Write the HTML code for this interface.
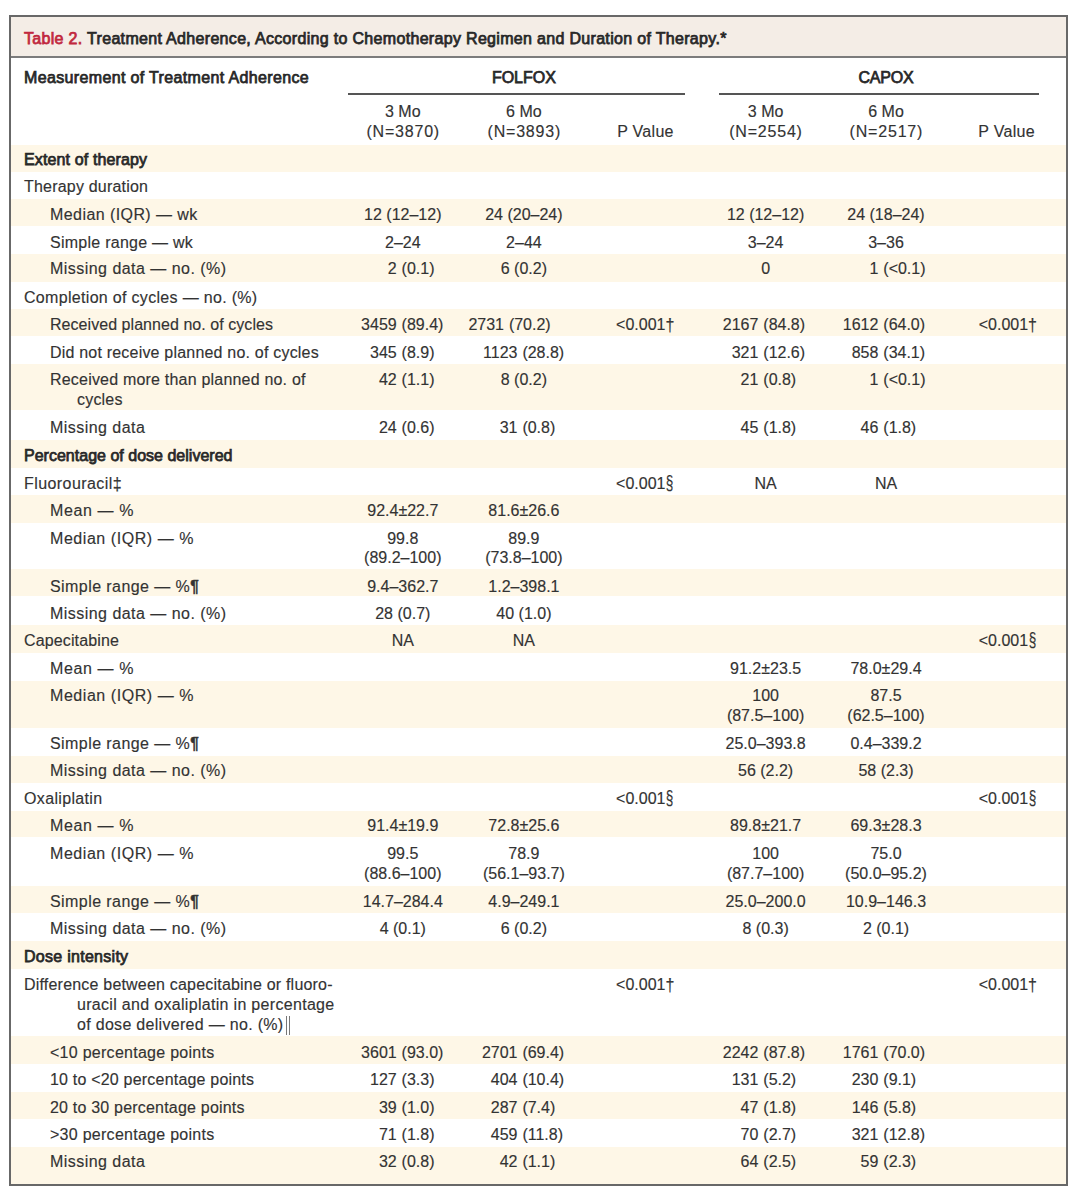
<!DOCTYPE html>
<html><head><meta charset="utf-8">
<style>
html,body{margin:0;padding:0;background:#fff;}
body{width:1080px;height:1195px;position:relative;overflow:hidden;font-family:"Liberation Sans",sans-serif;color:#333;}
.frame{position:absolute;left:9px;top:15px;width:1055px;height:1167px;border:2px solid #686868;}
.title{position:absolute;left:11px;top:17px;width:1055px;height:39px;background:#f4ede6;border-bottom:2px solid #7c7c7c;}
.tt{position:absolute;left:24px;top:29px;font-size:16px;letter-spacing:0.317px;-webkit-text-stroke:0.75px #282828;color:#282828;white-space:nowrap;line-height:19px;}
.tt .red{color:#c1283e;-webkit-text-stroke:0.75px #c1283e;}
.band{position:absolute;left:11px;width:1055px;background:#fef7e7;}
.t{position:absolute;font-size:16px;line-height:19.7px;white-space:nowrap;color:#333;-webkit-text-stroke:0.15px #333;}
.lab{letter-spacing:0.2px;}
.b{-webkit-text-stroke:0.75px #282828;color:#282828;}
.c{text-align:center;width:200px;}
.r{text-align:right;width:200px;}
.hd{position:absolute;font-size:16px;-webkit-text-stroke:0.75px #282828;color:#282828;white-space:nowrap;line-height:19px;}
.rule{position:absolute;height:1.8px;background:#555;}
.n{letter-spacing:0.8px;margin-right:-0.8px}
.pv{letter-spacing:0.3px}
.sect{display:inline-block;transform:scale(0.85,1.22);transform-origin:50% 62%;}
.dag{display:inline-block;transform:scale(1,1.2);transform-origin:50% 40%;}
.pil{-webkit-text-stroke:0.6px #333}
.dbar{display:inline-block;width:1.6px;height:19px;border-left:1.1px solid #777;border-right:1.1px solid #777;vertical-align:-5px;margin-left:2.5px;-webkit-text-stroke:0}
</style></head><body>

<div class="title"></div>
<div class="band" style="top:145.0px;height:26.5px"></div>
<div class="band" style="top:198.9px;height:27.4px"></div>
<div class="band" style="top:253.6px;height:28.3px"></div>
<div class="band" style="top:308.9px;height:27.4px"></div>
<div class="band" style="top:364.4px;height:45.3px"></div>
<div class="band" style="top:439.6px;height:28.2px"></div>
<div class="band" style="top:495.2px;height:27.4px"></div>
<div class="band" style="top:568.5px;height:27.5px"></div>
<div class="band" style="top:625.2px;height:27.4px"></div>
<div class="band" style="top:680.7px;height:47.5px"></div>
<div class="band" style="top:755.9px;height:27.5px"></div>
<div class="band" style="top:810.7px;height:26.7px"></div>
<div class="band" style="top:886.3px;height:26.7px"></div>
<div class="band" style="top:941.1px;height:28.2px"></div>
<div class="band" style="top:1036.3px;height:27.4px"></div>
<div class="band" style="top:1091.8px;height:27.5px"></div>
<div class="band" style="top:1146.6px;height:37.4px"></div>
<div class="frame"></div>
<div class="tt"><span class="red">Table 2.</span> Treatment Adherence, According to Chemotherapy Regimen and Duration of Therapy.*</div>
<div class="hd" style="left:24px;top:68px;letter-spacing:0.352px">Measurement of Treatment Adherence</div>
<div class="hd" style="left:443.9px;top:68px;width:160px;text-align:center">FOLFOX</div>
<div class="hd" style="left:806px;top:68px;width:160px;text-align:center;letter-spacing:-0.2px">CAPOX</div>
<div class="rule" style="left:348px;top:92.8px;width:337px"></div>
<div class="rule" style="left:719px;top:92.8px;width:320px"></div>
<div class="t c" style="left:302.8px;top:102.2px;line-height:20.3px">3 Mo<br><span class=n>(N=3870)</span></div>
<div class="t c" style="left:423.9px;top:102.2px;line-height:20.3px">6 Mo<br><span class=n>(N=3893)</span></div>
<div class="t c" style="left:545.5px;top:102.2px;line-height:20.3px"><br><span class=pv>P Value</span></div>
<div class="t c" style="left:665.6px;top:102.2px;line-height:20.3px">3 Mo<br><span class=n>(N=2554)</span></div>
<div class="t c" style="left:786.0px;top:102.2px;line-height:20.3px">6 Mo<br><span class=n>(N=2517)</span></div>
<div class="t c" style="left:906.7px;top:102.2px;line-height:20.3px"><br><span class=pv>P Value</span></div>
<div class="t lab b" style="left:24px;top:149.7px;letter-spacing:0.131px">Extent of therapy</div>
<div class="t lab" style="left:24px;top:177.4px">Therapy duration</div>
<div class="t lab" style="left:50px;top:205.3px;letter-spacing:0.425px">Median (IQR) — wk</div>
<div class="t c" style="left:302.8px;top:205.3px">12 (12–12)</div>
<div class="t c" style="left:423.9px;top:205.3px">24 (20–24)</div>
<div class="t c" style="left:665.6px;top:205.3px">12 (12–12)</div>
<div class="t c" style="left:786.0px;top:205.3px">24 (18–24)</div>
<div class="t lab" style="left:50px;top:232.7px;letter-spacing:0.258px">Simple range — wk</div>
<div class="t c" style="left:302.8px;top:232.7px">2–24</div>
<div class="t c" style="left:423.9px;top:232.7px">2–44</div>
<div class="t c" style="left:665.6px;top:232.7px">3–24</div>
<div class="t c" style="left:786.0px;top:232.7px">3–36</div>
<div class="t lab" style="left:50px;top:259.4px;letter-spacing:0.464px">Missing data — no. (%)</div>
<div class="t r" style="left:196.7px;top:259.4px">2</div>
<div class="t" style="left:401.6px;top:259.4px">(0.1)</div>
<div class="t c" style="left:423.9px;top:259.4px">6 (0.2)</div>
<div class="t c" style="left:665.6px;top:259.4px">0</div>
<div class="t r" style="left:678.4px;top:259.4px">1</div>
<div class="t" style="left:883.3px;top:259.4px">(&lt;0.1)</div>
<div class="t lab" style="left:24px;top:288.0px;letter-spacing:0.314px">Completion of cycles — no. (%)</div>
<div class="t lab" style="left:50px;top:315.1px;letter-spacing:0.051px">Received planned no. of cycles</div>
<div class="t r" style="left:196.7px;top:315.1px">3459</div>
<div class="t" style="left:401.6px;top:315.1px">(89.4)</div>
<div class="t r" style="left:304.0px;top:315.1px">2731</div>
<div class="t" style="left:508.9px;top:315.1px">(70.2)</div>
<div class="t r" style="left:474.4px;top:315.1px">&lt;0.001<span class=dag>†</span></div>
<div class="t r" style="left:558.4px;top:315.1px">2167</div>
<div class="t" style="left:763.3px;top:315.1px">(84.8)</div>
<div class="t r" style="left:678.4px;top:315.1px">1612</div>
<div class="t" style="left:883.3px;top:315.1px">(64.0)</div>
<div class="t r" style="left:837.0px;top:315.1px">&lt;0.001<span class=dag>†</span></div>
<div class="t lab" style="left:50px;top:343.3px">Did not receive planned no. of cycles</div>
<div class="t r" style="left:196.7px;top:343.3px">345</div>
<div class="t" style="left:401.6px;top:343.3px">(8.9)</div>
<div class="t r" style="left:317.5px;top:343.3px">1123</div>
<div class="t" style="left:522.4px;top:343.3px">(28.8)</div>
<div class="t r" style="left:558.4px;top:343.3px">321</div>
<div class="t" style="left:763.3px;top:343.3px">(12.6)</div>
<div class="t r" style="left:678.4px;top:343.3px">858</div>
<div class="t" style="left:883.3px;top:343.3px">(34.1)</div>
<div class="t lab" style="left:50px;top:370.2px">Received more than planned no. of</div>
<div class="t lab" style="left:77px;top:390.2px">cycles</div>
<div class="t r" style="left:196.7px;top:370.2px">42</div>
<div class="t" style="left:401.6px;top:370.2px">(1.1)</div>
<div class="t c" style="left:423.9px;top:370.2px">8 (0.2)</div>
<div class="t r" style="left:558.4px;top:370.2px">21</div>
<div class="t" style="left:763.3px;top:370.2px">(0.8)</div>
<div class="t r" style="left:678.4px;top:370.2px">1</div>
<div class="t" style="left:883.3px;top:370.2px">(&lt;0.1)</div>
<div class="t lab" style="left:50px;top:417.6px;letter-spacing:0.456px">Missing data</div>
<div class="t r" style="left:196.7px;top:417.6px">24</div>
<div class="t" style="left:401.6px;top:417.6px">(0.6)</div>
<div class="t r" style="left:317.5px;top:417.6px">31</div>
<div class="t" style="left:522.4px;top:417.6px">(0.8)</div>
<div class="t r" style="left:558.4px;top:417.6px">45</div>
<div class="t" style="left:763.3px;top:417.6px">(1.8)</div>
<div class="t r" style="left:678.4px;top:417.6px">46</div>
<div class="t" style="left:883.3px;top:417.6px">(1.8)</div>
<div class="t lab b" style="left:24px;top:445.5px;letter-spacing:0.013px">Percentage of dose delivered</div>
<div class="t lab" style="left:24px;top:473.6px;letter-spacing:0.424px">Fluorouracil<span class=dag>‡</span></div>
<div class="t r" style="left:474.4px;top:473.6px">&lt;0.001<span class=sect>§</span></div>
<div class="t c" style="left:665.6px;top:473.6px">NA</div>
<div class="t c" style="left:786.0px;top:473.6px">NA</div>
<div class="t lab" style="left:50px;top:501.1px;letter-spacing:0.607px">Mean — %</div>
<div class="t c" style="left:302.8px;top:501.1px">92.4±22.7</div>
<div class="t c" style="left:423.9px;top:501.1px">81.6±26.6</div>
<div class="t lab" style="left:50px;top:528.5px;letter-spacing:0.554px">Median (IQR) — %</div>
<div class="t c" style="left:302.8px;top:528.5px">99.8<br>(89.2–100)</div>
<div class="t c" style="left:423.9px;top:528.5px">89.9<br>(73.8–100)</div>
<div class="t lab" style="left:50px;top:576.6px;letter-spacing:0.430px">Simple range — %<span class=pil>¶</span></div>
<div class="t c" style="left:302.8px;top:576.6px">9.4–362.7</div>
<div class="t c" style="left:423.9px;top:576.6px">1.2–398.1</div>
<div class="t lab" style="left:50px;top:603.5px;letter-spacing:0.464px">Missing data — no. (%)</div>
<div class="t c" style="left:302.8px;top:603.5px">28 (0.7)</div>
<div class="t c" style="left:423.9px;top:603.5px">40 (1.0)</div>
<div class="t lab" style="left:24px;top:631.2px;letter-spacing:0.133px">Capecitabine</div>
<div class="t c" style="left:302.8px;top:631.2px">NA</div>
<div class="t c" style="left:423.9px;top:631.2px">NA</div>
<div class="t r" style="left:837.0px;top:631.2px">&lt;0.001<span class=sect>§</span></div>
<div class="t lab" style="left:50px;top:659.3px;letter-spacing:0.607px">Mean — %</div>
<div class="t c" style="left:665.6px;top:659.3px">91.2±23.5</div>
<div class="t c" style="left:786.0px;top:659.3px">78.0±29.4</div>
<div class="t lab" style="left:50px;top:686.0px;letter-spacing:0.554px">Median (IQR) — %</div>
<div class="t c" style="left:665.6px;top:686.0px">100<br>(87.5–100)</div>
<div class="t c" style="left:786.0px;top:686.0px">87.5<br>(62.5–100)</div>
<div class="t lab" style="left:50px;top:733.7px;letter-spacing:0.430px">Simple range — %<span class=pil>¶</span></div>
<div class="t c" style="left:665.6px;top:733.7px">25.0–393.8</div>
<div class="t c" style="left:786.0px;top:733.7px">0.4–339.2</div>
<div class="t lab" style="left:50px;top:761.3px;letter-spacing:0.464px">Missing data — no. (%)</div>
<div class="t c" style="left:665.6px;top:761.3px">56 (2.2)</div>
<div class="t c" style="left:786.0px;top:761.3px">58 (2.3)</div>
<div class="t lab" style="left:24px;top:788.7px;letter-spacing:0.345px">Oxaliplatin</div>
<div class="t r" style="left:474.4px;top:788.7px">&lt;0.001<span class=sect>§</span></div>
<div class="t r" style="left:837.0px;top:788.7px">&lt;0.001<span class=sect>§</span></div>
<div class="t lab" style="left:50px;top:816.4px;letter-spacing:0.607px">Mean — %</div>
<div class="t c" style="left:302.8px;top:816.4px">91.4±19.9</div>
<div class="t c" style="left:423.9px;top:816.4px">72.8±25.6</div>
<div class="t c" style="left:665.6px;top:816.4px">89.8±21.7</div>
<div class="t c" style="left:786.0px;top:816.4px">69.3±28.3</div>
<div class="t lab" style="left:50px;top:844.2px;letter-spacing:0.554px">Median (IQR) — %</div>
<div class="t c" style="left:302.8px;top:844.2px">99.5<br>(88.6–100)</div>
<div class="t c" style="left:423.9px;top:844.2px">78.9<br>(56.1–93.7)</div>
<div class="t c" style="left:665.6px;top:844.2px">100<br>(87.7–100)</div>
<div class="t c" style="left:786.0px;top:844.2px">75.0<br>(50.0–95.2)</div>
<div class="t lab" style="left:50px;top:892.4px;letter-spacing:0.430px">Simple range — %<span class=pil>¶</span></div>
<div class="t c" style="left:302.8px;top:892.4px">14.7–284.4</div>
<div class="t c" style="left:423.9px;top:892.4px">4.9–249.1</div>
<div class="t c" style="left:665.6px;top:892.4px">25.0–200.0</div>
<div class="t c" style="left:786.0px;top:892.4px">10.9–146.3</div>
<div class="t lab" style="left:50px;top:919.4px;letter-spacing:0.464px">Missing data — no. (%)</div>
<div class="t c" style="left:302.8px;top:919.4px">4 (0.1)</div>
<div class="t c" style="left:423.9px;top:919.4px">6 (0.2)</div>
<div class="t c" style="left:665.6px;top:919.4px">8 (0.3)</div>
<div class="t c" style="left:786.0px;top:919.4px">2 (0.1)</div>
<div class="t lab b" style="left:24px;top:947.3px;letter-spacing:0.279px">Dose intensity</div>
<div class="t lab" style="left:24px;top:974.7px">Difference between capecitabine or fluoro-</div>
<div class="t lab" style="left:77px;top:994.7px;letter-spacing:0.309px">uracil and oxaliplatin in percentage</div>
<div class="t lab" style="left:77px;top:1014.7px;letter-spacing:0.300px">of dose delivered — no. (%)<span class=dbar></span></div>
<div class="t r" style="left:474.4px;top:974.7px">&lt;0.001<span class=dag>†</span></div>
<div class="t r" style="left:837.0px;top:974.7px">&lt;0.001<span class=dag>†</span></div>
<div class="t lab" style="left:50px;top:1043.2px;letter-spacing:0.272px">&lt;10 percentage points</div>
<div class="t r" style="left:196.7px;top:1043.2px">3601</div>
<div class="t" style="left:401.6px;top:1043.2px">(93.0)</div>
<div class="t r" style="left:317.5px;top:1043.2px">2701</div>
<div class="t" style="left:522.4px;top:1043.2px">(69.4)</div>
<div class="t r" style="left:558.4px;top:1043.2px">2242</div>
<div class="t" style="left:763.3px;top:1043.2px">(87.8)</div>
<div class="t r" style="left:678.4px;top:1043.2px">1761</div>
<div class="t" style="left:883.3px;top:1043.2px">(70.0)</div>
<div class="t lab" style="left:50px;top:1070.3px">10 to &lt;20 percentage points</div>
<div class="t r" style="left:196.7px;top:1070.3px">127</div>
<div class="t" style="left:401.6px;top:1070.3px">(3.3)</div>
<div class="t r" style="left:317.5px;top:1070.3px">404</div>
<div class="t" style="left:522.4px;top:1070.3px">(10.4)</div>
<div class="t r" style="left:558.4px;top:1070.3px">131</div>
<div class="t" style="left:763.3px;top:1070.3px">(5.2)</div>
<div class="t r" style="left:678.4px;top:1070.3px">230</div>
<div class="t" style="left:883.3px;top:1070.3px">(9.1)</div>
<div class="t lab" style="left:50px;top:1097.7px">20 to 30 percentage points</div>
<div class="t r" style="left:196.7px;top:1097.7px">39</div>
<div class="t" style="left:401.6px;top:1097.7px">(1.0)</div>
<div class="t r" style="left:317.5px;top:1097.7px">287</div>
<div class="t" style="left:522.4px;top:1097.7px">(7.4)</div>
<div class="t r" style="left:558.4px;top:1097.7px">47</div>
<div class="t" style="left:763.3px;top:1097.7px">(1.8)</div>
<div class="t r" style="left:678.4px;top:1097.7px">146</div>
<div class="t" style="left:883.3px;top:1097.7px">(5.8)</div>
<div class="t lab" style="left:50px;top:1125.2px;letter-spacing:0.272px">&gt;30 percentage points</div>
<div class="t r" style="left:196.7px;top:1125.2px">71</div>
<div class="t" style="left:401.6px;top:1125.2px">(1.8)</div>
<div class="t r" style="left:317.5px;top:1125.2px">459</div>
<div class="t" style="left:522.4px;top:1125.2px">(11.8)</div>
<div class="t r" style="left:558.4px;top:1125.2px">70</div>
<div class="t" style="left:763.3px;top:1125.2px">(2.7)</div>
<div class="t r" style="left:678.4px;top:1125.2px">321</div>
<div class="t" style="left:883.3px;top:1125.2px">(12.8)</div>
<div class="t lab" style="left:50px;top:1152.2px;letter-spacing:0.456px">Missing data</div>
<div class="t r" style="left:196.7px;top:1152.2px">32</div>
<div class="t" style="left:401.6px;top:1152.2px">(0.8)</div>
<div class="t r" style="left:317.5px;top:1152.2px">42</div>
<div class="t" style="left:522.4px;top:1152.2px">(1.1)</div>
<div class="t r" style="left:558.4px;top:1152.2px">64</div>
<div class="t" style="left:763.3px;top:1152.2px">(2.5)</div>
<div class="t r" style="left:678.4px;top:1152.2px">59</div>
<div class="t" style="left:883.3px;top:1152.2px">(2.3)</div>
</body></html>
